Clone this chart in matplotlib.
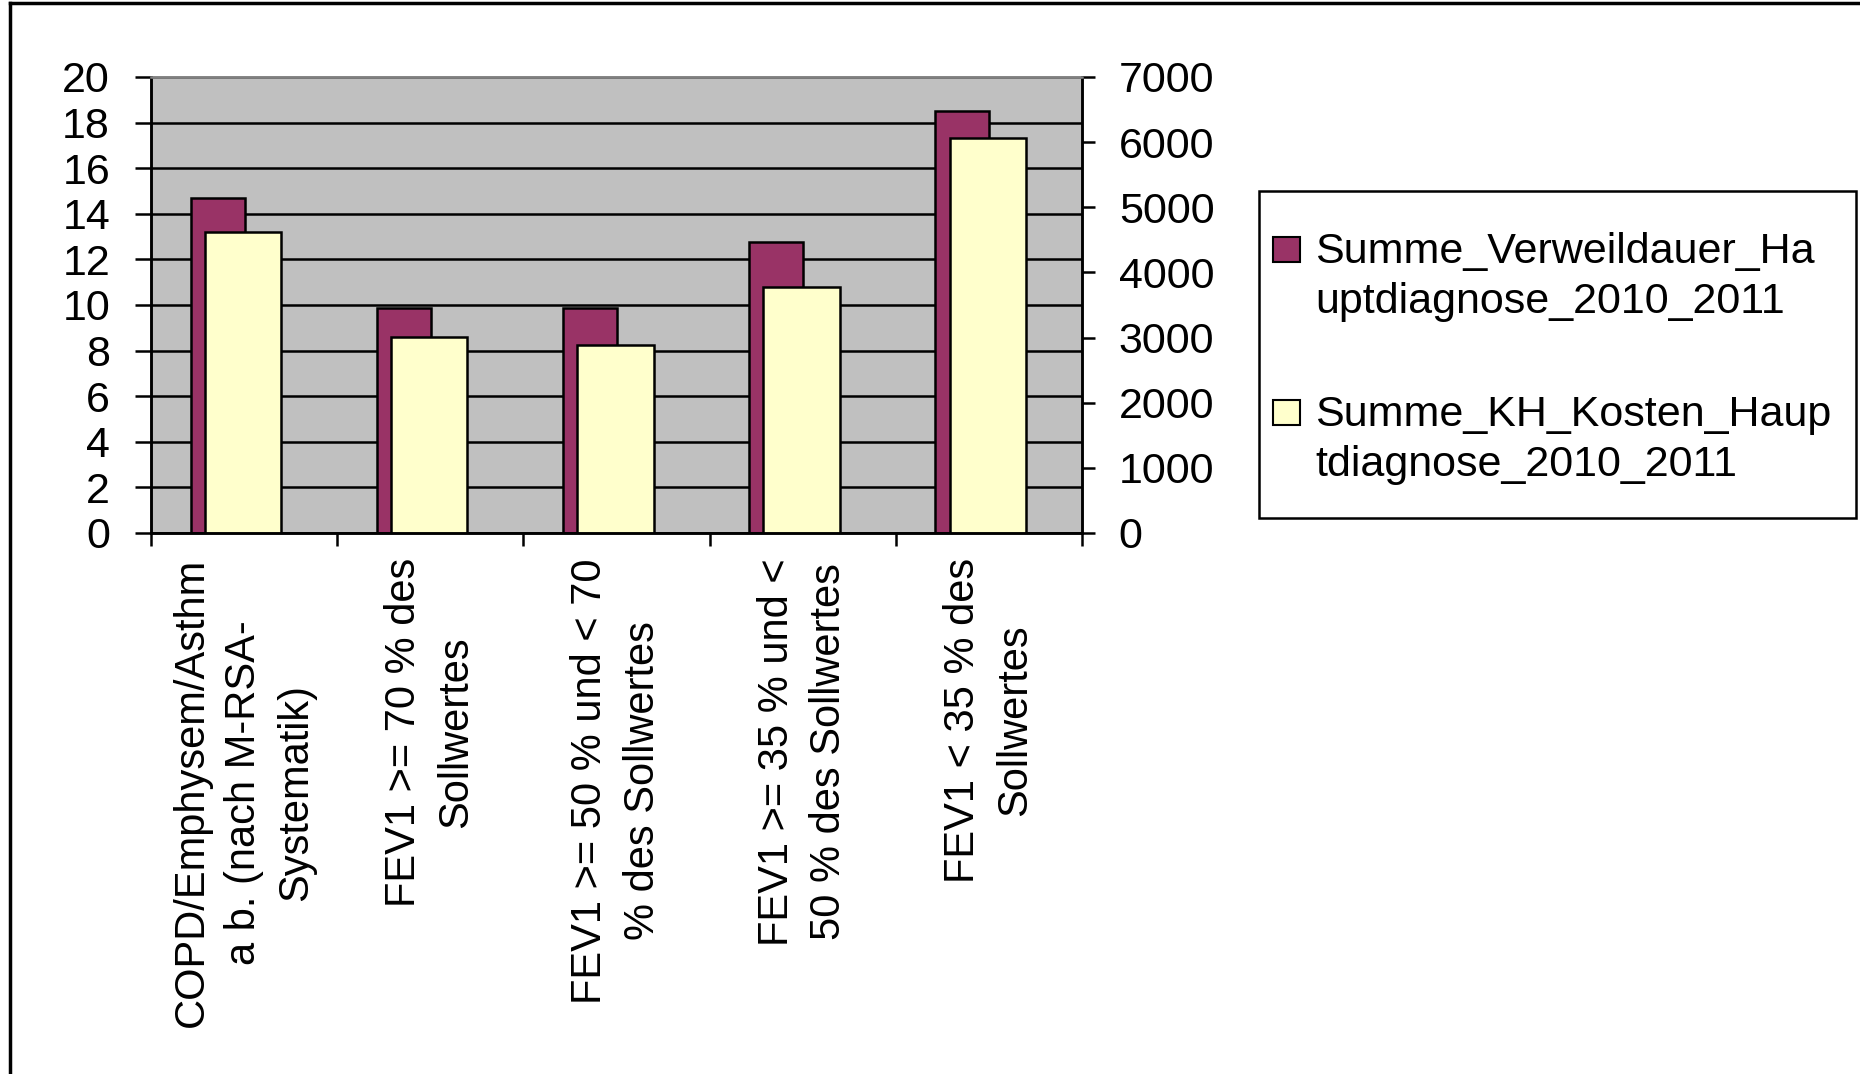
import numpy as np
import matplotlib
matplotlib.use("Agg")
import matplotlib.pyplot as plt
from matplotlib.patches import Rectangle
from matplotlib.lines import Line2D

plt.rcParams['font.family'] = ['Liberation Sans', 'DejaVu Sans']

categories = [
    "COPD/Emphysem/Asthm\na b. (nach M-RSA-\nSystematik)",
    "FEV1 >= 70 % des\nSollwertes",
    "FEV1 >= 50 % und < 70\n% des Sollwertes",
    "FEV1 >= 35 % und <\n50 % des Sollwertes",
    "FEV1 < 35 % des\nSollwertes",
]
verweildauer = [14.7, 9.85, 9.85, 12.75, 18.5]
kh_kosten = [4620, 3010, 2890, 3780, 6070]
series_names = [
    "Summe_Verweildauer_Ha\nuptdiagnose_2010_2011",
    "Summe_KH_Kosten_Haup\ntdiagnose_2010_2011",
]
left_ticks = list(range(0, 21, 2))
right_ticks = list(range(0, 7001, 1000))

MAROON = "#993366"
CREAM = "#FFFFCC"
PLOT_BG = "#C0C0C0"
FS = 30        # rotated category names
FS_H = 31      # horizontal texts (tick numbers, legend)
LW = 1.8

W, H = 1860, 1074
fig = plt.figure(figsize=(W / 100, H / 100), dpi=100)

def fx(px):
    return px / W

def fy(py):
    return 1 - py / H

ax_l, ax_r, ax_t, ax_b = 151, 1082, 77, 533
ax = fig.add_axes([fx(ax_l), fy(ax_b), fx(ax_r - ax_l), (ax_b - ax_t) / H])
ax.set_facecolor(PLOT_BG)
ax2 = ax.twinx()

x = np.arange(len(categories))
ax.bar(x - 0.142, verweildauer, width=0.29, color=MAROON,
       edgecolor="black", linewidth=LW, zorder=2)
ax2.bar(x - 0.006, kh_kosten, width=0.41, color=CREAM,
        edgecolor="black", linewidth=LW, zorder=2)

ax.set_xlim(-0.5, len(categories) - 0.5)
ax.set_ylim(0, 20)
ax2.set_ylim(0, 7000)

ax.set_yticks(left_ticks)
ax.set_yticklabels([str(v) for v in left_ticks], fontsize=FS_H)
ax2.set_yticks(right_ticks)
ax2.set_yticklabels([str(v) for v in right_ticks], fontsize=FS_H)

ax.set_axisbelow(True)
ax.yaxis.grid(True, color="black", linewidth=LW)
ax.xaxis.grid(False)

# category boundaries as major ticks, names on minor ticks at centres
ax.set_xticks(np.arange(-0.5, len(categories), 1.0))
ax.set_xticklabels([])
ax.set_xticks(x, minor=True)
ax.set_xticklabels(categories, minor=True, rotation=90, fontsize=FS,
                   ha="center", va="top", multialignment="center",
                   linespacing=1.4)
ax.tick_params(axis="x", which="major", direction="out", length=9,
               width=LW, color="black")
ax.tick_params(axis="x", which="minor", length=0, pad=18)
ax.tick_params(axis="y", direction="out", length=11.5, width=LW,
               pad=18, colors="black")
ax2.tick_params(axis="y", direction="out", length=9.5, width=LW,
                pad=17, colors="black")
ax2.tick_params(axis="x", length=0)

for a in (ax, ax2):
    for side in ("left", "right", "bottom"):
        a.spines[side].set_color("black")
        a.spines[side].set_linewidth(LW)
    a.spines["top"].set_color("#808080")
    a.spines["top"].set_linewidth(LW)

# legend box drawn in figure pixels
fig.patches.append(Rectangle((fx(1259), fy(518)), fx(1856 - 1259),
                             (518 - 191) / H, transform=fig.transFigure,
                             facecolor="white", edgecolor="black",
                             linewidth=LW))
entries = [(series_names[0], MAROON, 263), (series_names[1], CREAM, 426)]
for label, color, base in entries:
    fig.patches.append(Rectangle((fx(1273), fy(base - 1)), fx(27), 25 / H,
                                 transform=fig.transFigure,
                                 facecolor=color, edgecolor="black",
                                 linewidth=1.5))
    for k, line in enumerate(label.split("\n")):
        fig.text(fx(1315), fy(base + 50 * k), line, fontsize=FS_H,
                 va="baseline", ha="left")

# outer chart frame (top and left edges)
fig.add_artist(Line2D([fx(10), 1], [fy(3), fy(3)], color="black",
                      linewidth=2.5, transform=fig.transFigure))
fig.add_artist(Line2D([fx(10), fx(10)], [fy(3), 0], color="black",
                      linewidth=2.5, transform=fig.transFigure))

fig.savefig("out.png", dpi=100, facecolor="white")
